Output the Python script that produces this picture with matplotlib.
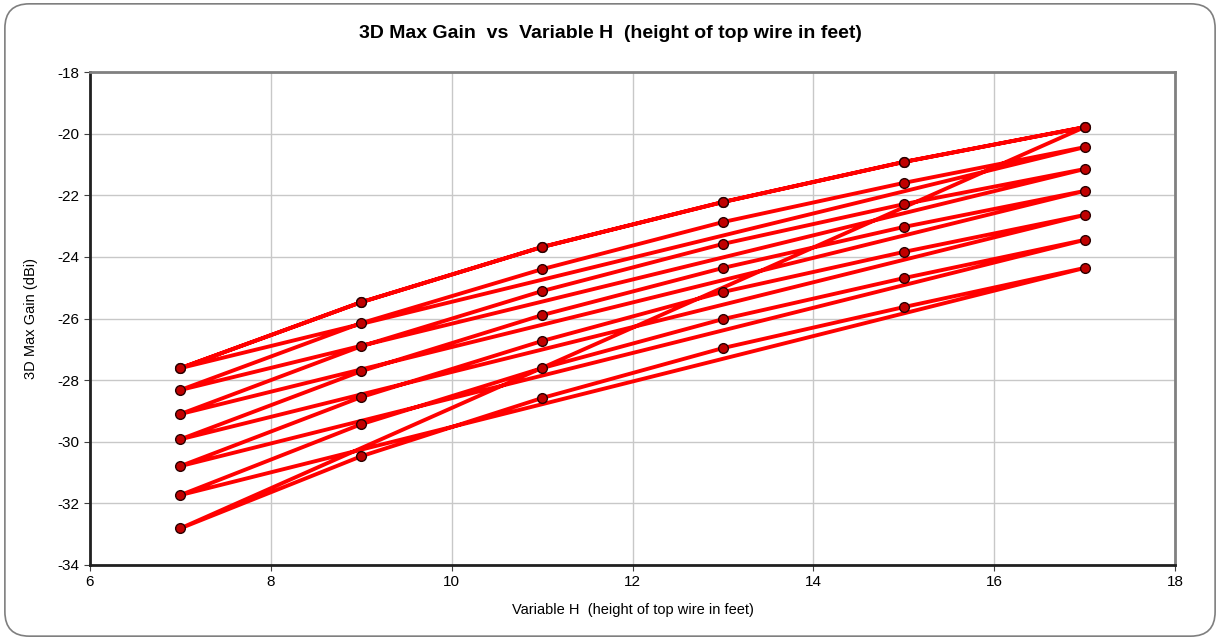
import matplotlib
matplotlib.use("Agg")
import matplotlib.pyplot as plt
from matplotlib.patches import FancyBboxPatch

plt.rcParams['font.family'] = ['Liberation Sans', 'DejaVu Sans']
plt.rcParams['axes.unicode_minus'] = False

# top wire height values (feet)
H_VALUES = [7, 9, 11, 13, 15, 17]

# gain (dBi) for each of the seven sweep levels, listed against H_VALUES
LEVEL_0 = [-27.61, -25.47, -23.68, -22.22, -20.92, -19.79]
LEVEL_1 = [-28.32, -26.15, -24.40, -22.87, -21.60, -20.44]
LEVEL_2 = [-29.10, -26.90, -25.11, -23.58, -22.29, -21.15]
LEVEL_3 = [-29.92, -27.71, -25.89, -24.36, -23.03, -21.86]
LEVEL_4 = [-30.79, -28.55, -26.73, -25.14, -23.84, -22.64]
LEVEL_5 = [-31.73, -29.43, -27.61, -26.02, -24.69, -23.45]
LEVEL_6 = [-32.81, -30.47, -28.58, -26.96, -25.63, -24.36]

# order in which the sweep cases were run
CASE_ORDER = [LEVEL_0, LEVEL_6, LEVEL_5, LEVEL_4, LEVEL_3, LEVEL_2, LEVEL_1, LEVEL_0]

X_TICKS = [6, 8, 10, 12, 14, 16, 18]
Y_TICKS = [-34, -32, -30, -28, -26, -24, -22, -20, -18]


def build_cases(order, hs):
    ''' strings the sweep levels together into one run of cases '''
    xs = []
    ys = []
    for level in order:
        xs.extend(hs)
        ys.extend(level)
    return xs, ys


def main():
    xs, ys = build_cases(CASE_ORDER, H_VALUES)

    fig = plt.figure(figsize=(12.2, 6.4), dpi=100)
    fig.patch.set_facecolor("white")

    # rounded chart border
    border = FancyBboxPatch((0.004, 0.006), 0.992, 0.988,
                            boxstyle="round,pad=0,rounding_size=0.02",
                            transform=fig.transFigure, facecolor="none",
                            edgecolor="#7f7f7f", linewidth=1.2,
                            mutation_aspect=1220 / 640, zorder=-1)
    fig.patches.append(border)

    ax = fig.add_axes([90 / 1220, 1 - 565 / 640, 1085 / 1220, 493 / 640])
    ax.plot(xs, ys, color="#ff0000", linewidth=2.8, marker="o",
            markersize=7, markerfacecolor="#c00000",
            markeredgecolor="#2a0000", markeredgewidth=1.0, zorder=3)

    ax.set_xlim(6, 18)
    ax.set_ylim(-34, -18)
    ax.set_xticks(X_TICKS)
    ax.set_yticks(Y_TICKS)
    ax.grid(True, color="#c8c8c8", linewidth=1.0)
    ax.set_axisbelow(True)
    ax.tick_params(labelsize=11, length=4, direction="out", color="#404040")

    for side in ["left", "bottom"]:
        ax.spines[side].set_color("#202020")
        ax.spines[side].set_linewidth(2.0)
    for side in ["top", "right"]:
        ax.spines[side].set_color("#808080")
        ax.spines[side].set_linewidth(2.0)

    ax.set_xlabel("Variable H  (height of top wire in feet)", fontsize=10.5,
                  labelpad=10)
    ax.set_ylabel("3D Max Gain (dBi)", fontsize=10.5, labelpad=14)

    fig.text(0.5, 1 - 33 / 640,
             "3D Max Gain  vs  Variable H  (height of top wire in feet)",
             ha="center", va="center", fontsize=14, fontweight="bold")

    fig.savefig("out.png", dpi=100)


main()
